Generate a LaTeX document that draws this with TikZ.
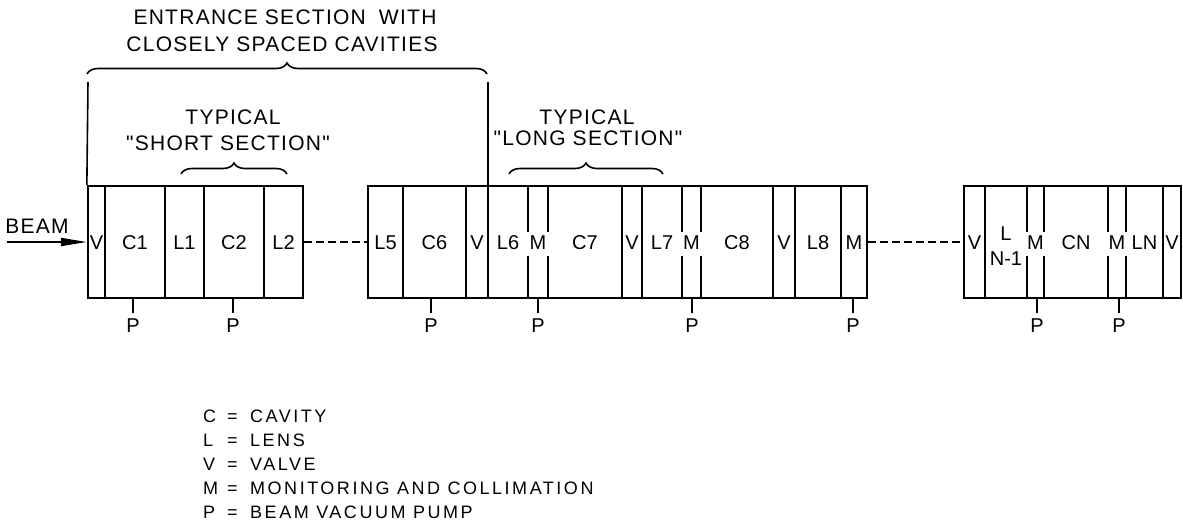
\documentclass[tikz,border=0pt]{standalone}
\usepackage{fontspec}
\setmainfont{Liberation Sans}
\newfontfamily\captionfont[LetterSpace=6]{Liberation Sans}
\newfontfamily\legendfont[LetterSpace=14]{Liberation Sans}
\usetikzlibrary{arrows.meta,decorations.pathreplacing}

\newcommand{\legendline}[2]{\makebox[24pt][l]{#1}\makebox[23pt][l]{=}#2}

\begin{document}
\begin{tikzpicture}[
  x=1pt,y=-1pt,
  every node/.style={font=\fontsize{20}{22}\selectfont,inner sep=0pt},
  block/.style={draw,line width=2.3pt,minimum height=112pt,inner sep=0pt},
  divider/.style={line width=1.6pt},
  link/.style={line width=1.6pt,dash pattern=on 8pt off 4pt},
  pumptick/.style={line width=1.6pt},
  bracket/.style={line width=1.6pt,decorate,decoration={brace,amplitude=11pt}},
  caption/.style={font=\captionfont\fontsize{21}{24}\selectfont},
  legend/.style={anchor=west,font=\legendfont\fontsize{18}{20}\selectfont},
]
  \useasboundingbox (0,0) rectangle (1183,523);

  % Blocks
  \node[block,minimum width=215pt] (sec1) at (195.5,242) {};
  \node[block,minimum width=499pt] (sec2) at (617.5,242) {};
  \node[block,minimum width=217pt] (sec3) at (1072.5,242) {};

  % Walls between cells
  \foreach \x in {105,165,204,264,403,466,622,642,773,795,841,985,1163}
    \draw[divider] (\x,186) -- (\x,298);
  \foreach \x in {528,548,682,701,1027,1044,1108,1126}
    \draw[divider] (\x,186) -- (\x,232) (\x,256) -- (\x,298);

  % Cell labels
  \node (v1) at (96.5,243) {V};
  \node (c1) at (135,243) {C1};
  \node (l1) at (184.5,243) {L1};
  \node (c2) at (234,243) {C2};
  \node (l2) at (283.5,243) {L2};

  \node (l5) at (385.5,243) {L5};
  \node (c6) at (434.5,243) {C6};
  \node (v6) at (477,243) {V};
  \node (l6) at (508,243) {L6};
  \node (m6) at (538,243) {M};
  \node (c7) at (585,243) {C7};
  \node (v7) at (632,243) {V};
  \node (l7) at (662,243) {L7};
  \node (m7) at (691.5,243) {M};
  \node (c8) at (737,243) {C8};
  \node (v8) at (784,243) {V};
  \node (l8) at (818,243) {L8};
  \node (m8) at (854,243) {M};

  \node (vn) at (974.5,243) {V};
  \node (lnm) at (1006,234) {L};
  \node (nm) at (1006,259) {N-1};
  \node (mn) at (1035.5,243) {M};
  \node (cn) at (1076,243) {CN};
  \node (mln) at (1117,243) {M};
  \node (ln) at (1144.5,243) {LN};
  \node (vend) at (1172,243) {V};

  % Beam in
  \node[caption] (beam) at (37,226) {BEAM};
  \coordinate (beamtail) at (7,242);
  \draw[line width=2pt,-{Triangle[length=26pt,width=8pt]}] (beamtail) -- (sec1.west);

  % Gaps between blocks
  \draw[link] (sec1.east) -- (sec2.west);
  \draw[link] (sec2.east) -- (sec3.west);

  % Pumps
  \node (p1) at (133,326) {P};
  \node (p2) at (233,326) {P};
  \node (p3) at (431,326) {P};
  \node (p4) at (538,326) {P};
  \node (p5) at (692,326) {P};
  \node (p6) at (853,326) {P};
  \node (p7) at (1037,326) {P};
  \node (p8) at (1119,326) {P};
  \draw[pumptick] (p1 |- sec1.south) -- ([yshift=6pt]p1.north);
  \draw[pumptick] (p2 |- sec1.south) -- ([yshift=6pt]p2.north);
  \draw[pumptick] (p3 |- sec2.south) -- ([yshift=6pt]p3.north);
  \draw[pumptick] (p4 |- sec2.south) -- ([yshift=6pt]p4.north);
  \draw[pumptick] (p5 |- sec2.south) -- ([yshift=6pt]p5.north);
  \draw[pumptick] (p6 |- sec2.south) -- ([yshift=6pt]p6.north);
  \draw[pumptick] (p7 |- sec3.south) -- ([yshift=6pt]p7.north);
  \draw[pumptick] (p8 |- sec3.south) -- ([yshift=6pt]p8.north);

  % Entrance section
  \node[caption] (ent1) at (285,17) {ENTRANCE SECTION\hspace{6pt} WITH};
  \node[caption] (ent2) at (282,44) {CLOSELY SPACED CAVITIES};
  \coordinate (entl) at (87,74);
  \coordinate (entr) at (487,74);
  \draw[bracket] (entl) -- (entr);
  \draw[divider] (88,82) -- (sec1.north west);
  \draw[divider] (488,82) -- (488,298);

  % Typical sections
  \node[caption] (short1) at (233,117) {TYPICAL};
  \node[caption] (short2) at (228,143) {"SHORT SECTION"};
  \coordinate (shortl) at (181,174);
  \coordinate (shortr) at (287,174);
  \draw[bracket] (shortl) -- (shortr);

  \node[caption] (long1) at (587,117) {TYPICAL};
  \node[caption] (long2) at (588,138) {"LONG SECTION"};
  \coordinate (longl) at (509,174);
  \coordinate (longr) at (663,174);
  \draw[bracket] (longl) -- (longr);

  % Legend
  \node[legend] (legc) at (203,416) {\legendline{C}{CAVITY}};
  \node[legend] (legl) at (203,440) {\legendline{L}{LENS}};
  \node[legend] (legv) at (203,464) {\legendline{V}{VALVE}};
  \node[legend] (legm) at (203,488) {\legendline{M}{MONITORING AND COLLIMATION}};
  \node[legend] (legp) at (203,512) {\legendline{P}{BEAM VACUUM PUMP}};
\end{tikzpicture}
\end{document}
